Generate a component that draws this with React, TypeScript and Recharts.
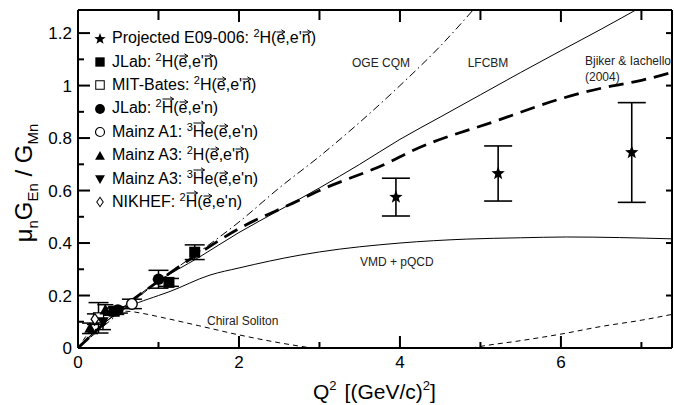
import { ComposedChart, Line, Scatter, XAxis, YAxis, ErrorBar } from 'recharts'

const FONT = '"Liberation Sans", Arial, Helvetica, sans-serif'
const PLOT_LEFT = 78
const PLOT_RIGHT = 672
const PLOT_TOP = 10
const PLOT_BOTTOM = 348
const X_MAX = 7.38
const Y_MAX = 1.288

// axis ticks
const xMajor = [0, 2, 4, 6]
const xMinor = [1, 3, 5, 7]
const yMajor = [0, 0.2, 0.4, 0.6, 0.8, 1.0, 1.2]
const yMinor = [0.1, 0.3, 0.5, 0.7, 0.9, 1.1]

// theory curves
const ogeQ2 = [0, 0.5, 1, 1.5, 2, 2.5, 3, 3.5, 4, 4.5, 5]
const ogeRatio = [0, 0.13, 0.255, 0.365, 0.48, 0.61, 0.73, 0.86, 1.0, 1.15, 1.32]

const lfcbmQ2 = [0, 0.5, 1, 1.5, 2, 2.5, 3, 3.5, 4, 4.5, 5, 5.5, 6, 6.5, 7]
const lfcbmRatio = [0, 0.14, 0.255, 0.345, 0.44, 0.525, 0.61, 0.7, 0.795, 0.88, 0.965, 1.05, 1.133, 1.215, 1.3]

const bijkerQ2 = [0, 0.5, 1, 1.5, 2, 2.67, 3, 3.88, 4.12, 5.24, 6, 6.5, 7, 7.38]
const bijkerRatio = [0, 0.14, 0.255, 0.36, 0.455, 0.552, 0.6, 0.71, 0.747, 0.87, 0.95, 0.99, 1.02, 1.05]

const vmdQ2 = [0, 0.25, 0.5, 1, 1.13, 1.64, 2, 2.76, 3, 4, 4.83, 5.5, 6.07, 7.38]
const vmdRatio = [0, 0.075, 0.135, 0.2, 0.214, 0.278, 0.305, 0.354, 0.366, 0.4, 0.415, 0.42, 0.423, 0.416]

const chiralQ2 = [0, 0.1, 0.2, 0.3, 0.45, 0.6, 0.8, 1.02, 1.5, 2, 2.5, 2.9, 3.5, 4, 4.5, 5, 5.5, 6, 6.5, 7, 7.38]
const chiralRatio = [0, 0.045, 0.085, 0.11, 0.135, 0.14, 0.132, 0.118, 0.085, 0.05, 0.02, 0, -0.03, -0.04, -0.025, 0.006, 0.028, 0.053, 0.082, 0.106, 0.128]

// data points
const projQ2 = [3.95, 5.22, 6.88]
const projRatio = [0.575, 0.665, 0.745]
const projErr = [0.072, 0.105, 0.19]

const jlabDQ2 = [0.45, 1.13, 1.45]
const jlabDRatio = [0.14, 0.25, 0.365]
const jlabDErr = [0.012, 0.015, 0.028]

const batesQ2 = [0.255]
const batesRatio = [0.115]
const batesErr = [0.058]

const jlabPolQ2 = [0.495, 1.0]
const jlabPolRatio = [0.145, 0.262]
const jlabPolErr = [0.012, 0.034]

const mainzA1Q2 = [0.67]
const mainzA1Ratio = [0.168]
const mainzA1Err = [0.018]

const mainzA3dQ2 = [0.15, 0.34]
const mainzA3dRatio = [0.075, 0.145]
const mainzA3dErr = [0.02, 0.02]

const mainzA3heQ2 = [0.31]
const mainzA3heRatio = [0.1]
const mainzA3heErr = [0.03]

const nikhefQ2 = [0.21]
const nikhefRatio = [0.11]
const nikhefErr = [0.02]

const curve = (xs: number[], ys: number[]) => xs.map((x, i) => ({ x, y: ys[i] }))
const points = (xs: number[], ys: number[], es: number[]) => xs.map((x, i) => ({ x, y: ys[i], e: es[i] }))

// tick positions on the frame (same domain as the axes)
const tx = (v: number) => PLOT_LEFT + (v / X_MAX) * (PLOT_RIGHT - PLOT_LEFT)
const ty = (v: number) => PLOT_BOTTOM - (v / Y_MAX) * (PLOT_BOTTOM - PLOT_TOP)

// ---------- marker shapes ----------
const starPath = (cx: number, cy: number, R: number) => {
  const r = R * 0.42
  let d = ''
  for (let i = 0; i < 10; i++) {
    const a = -Math.PI / 2 + (i * Math.PI) / 5
    const rr = i % 2 === 0 ? R : r
    d += (i === 0 ? 'M' : 'L') + (cx + rr * Math.cos(a)).toFixed(2) + ',' + (cy + rr * Math.sin(a)).toFixed(2)
  }
  return d + 'Z'
}

const Marker = ({ kind, cx, cy }: { kind: string; cx: number; cy: number }) => {
  switch (kind) {
    case 'star':
      return <path d={starPath(cx, cy, 7)} fill="#000" />
    case 'sq':
      return <rect x={cx - 5.5} y={cy - 5.5} width={11} height={11} fill="#000" />
    case 'osq':
      return <rect x={cx - 5} y={cy - 5} width={10} height={10} fill="#fff" stroke="#000" strokeWidth={1.2} />
    case 'dot':
      return <circle cx={cx} cy={cy} r={5.8} fill="#000" />
    case 'odot':
      return <circle cx={cx} cy={cy} r={5.3} fill="#fff" stroke="#000" strokeWidth={1.4} />
    case 'tri':
      return <path d={`M${cx},${cy - 6}L${cx + 5.8},${cy + 4.5}L${cx - 5.8},${cy + 4.5}Z`} fill="#000" />
    case 'dtri':
      return <path d={`M${cx},${cy + 6}L${cx + 5.8},${cy - 4.5}L${cx - 5.8},${cy - 4.5}Z`} fill="#000" />
    case 'dia':
      return <path d={`M${cx},${cy - 5.5}L${cx + 3.8},${cy}L${cx},${cy + 5.5}L${cx - 3.8},${cy}Z`} fill="#fff" stroke="#000" strokeWidth={1.2} />
  }
  return null
}

const shape = (kind: string) => (p: any) => <Marker kind={kind} cx={p.cx} cy={p.cy} />

// ---------- tick labels ----------
const fmt = (v: number) => String(Math.round(v * 10) / 10)

const BottomLabel = (p: any) => (
  <text x={p.x} y={PLOT_BOTTOM + 20} textAnchor="middle" fontSize={17} fontFamily={FONT} fill="#000">
    {p.payload.value}
  </text>
)

const LeftLabel = (p: any) => (
  <text x={PLOT_LEFT - 6} y={p.y + 6} textAnchor="end" fontSize={17} fontFamily={FONT} fill="#000">
    {fmt(p.payload.value)}
  </text>
)

const frame = { stroke: '#000', strokeWidth: 2 }

// inward tick marks on all four sides, drawn as thin filled bars
const vTick = (x: number, y: number, len: number, key: string) => (
  <rect key={key} x={x - 1} y={len > 0 ? y : y + len} width={2} height={Math.abs(len)} fill="#000" />
)
const hTick = (x: number, y: number, len: number, key: string) => (
  <rect key={key} x={len > 0 ? x : x + len} y={y - 1} width={Math.abs(len)} height={2} fill="#000" />
)

const TickMarks = () => (
  <g>
    {xMajor.map((v) => vTick(tx(v), PLOT_BOTTOM, -12, 'bM' + v))}
    {xMajor.map((v) => vTick(tx(v), PLOT_TOP, 12, 'tM' + v))}
    {xMinor.map((v) => vTick(tx(v), PLOT_BOTTOM, -6, 'bm' + v))}
    {xMinor.map((v) => vTick(tx(v), PLOT_TOP, 10, 'tm' + v))}
    {yMajor.map((v) => hTick(PLOT_LEFT, ty(v), 12, 'lM' + v))}
    {yMajor.map((v) => hTick(PLOT_RIGHT, ty(v), -6, 'rM' + v))}
    {yMinor.map((v) => hTick(PLOT_LEFT, ty(v), 6, 'lm' + v))}
  </g>
)

// ---------- legend ----------
const Vec = ({ children, cap }: { children: any; cap?: boolean }) => (
  <span style={{ position: 'relative', display: 'inline-block', lineHeight: '16px' }}>
    {children}
    <svg
      style={{ position: 'absolute', left: 0, top: cap ? -4 : -1, width: '100%', height: 6, overflow: 'visible' }}
    >
      <line x1="0.5" y1="3" x2="100%" y2="3" stroke="#000" strokeWidth={1} />
      <svg x="100%" y="3" overflow="visible">
        <path d="M-3.5,-2.2L0,0L-3.5,2.2" fill="none" stroke="#000" strokeWidth={1} />
      </svg>
    </svg>
  </span>
)

const Sup = ({ children }: { children: any }) => (
  <span style={{ fontSize: 11, position: 'relative', top: -6 }}>{children}</span>
)

const legendRows: { kind: string; label: string; react: any }[] = [
  { kind: 'star', label: 'Projected E09-006: ', react: <><Sup>2</Sup>H(<Vec>e</Vec>,e'<Vec>n</Vec>)</> },
  { kind: 'sq', label: 'JLab: ', react: <><Sup>2</Sup>H(<Vec>e</Vec>,e'<Vec>n</Vec>)</> },
  { kind: 'osq', label: 'MIT-Bates: ', react: <><Sup>2</Sup>H(<Vec>e</Vec>,e'<Vec>n</Vec>)</> },
  { kind: 'dot', label: 'JLab: ', react: <><Sup>2</Sup><Vec cap>H</Vec>(<Vec>e</Vec>,e'n)</> },
  { kind: 'odot', label: 'Mainz A1: ', react: <><Sup>3</Sup><Vec cap>H</Vec>e(<Vec>e</Vec>,e'n)</> },
  { kind: 'tri', label: 'Mainz A3: ', react: <><Sup>2</Sup>H(<Vec>e</Vec>,e'<Vec>n</Vec>)</> },
  { kind: 'dtri', label: 'Mainz A3: ', react: <><Sup>3</Sup><Vec cap>H</Vec>e(<Vec>e</Vec>,e'n)</> },
  { kind: 'dia', label: 'NIKHEF: ', react: <><Sup>2</Sup><Vec cap>H</Vec>(<Vec>e</Vec>,e'n)</> },
]

const LegendBox = () => (
  <div style={{ position: 'absolute', left: 92, top: 27, fontFamily: FONT, fontSize: 16, color: '#000' }}>
    {legendRows.map((r, i) => (
      <div key={i} style={{ height: 23.4, display: 'flex', alignItems: 'center', lineHeight: '18px', whiteSpace: 'pre' }}>
        <svg width={16} height={16} style={{ marginRight: 4, flex: 'none' }}>
          {r.kind === 'star' ? (
            <path d={starPath(8, 8, 6)} fill="#000" />
          ) : (
            <g transform="translate(8,8) scale(0.85) translate(-8,-8)">
              <Marker kind={r.kind} cx={8} cy={8} />
            </g>
          )}
        </svg>
        <span>
          {r.label}
          {r.react}
        </span>
      </div>
    ))}
  </div>
)

export default function App() {
  return (
    <div style={{ position: 'absolute', left: 0, top: 0, width: 674, height: 405, background: '#fff' }}>
      <ComposedChart width={674} height={405} margin={{ top: 9, right: 1, bottom: 56, left: 77 }}>
        <XAxis xAxisId="b" type="number" dataKey="x" domain={[0, X_MAX]} ticks={xMajor} interval={0} height={1}
          tickSize={0} tickLine={false} tick={BottomLabel} axisLine={frame} allowDataOverflow />
        <XAxis xAxisId="t" orientation="top" type="number" dataKey="x" domain={[0, X_MAX]} ticks={xMajor} interval={0} height={1}
          tickSize={0} tickLine={false} tick={false} axisLine={frame} allowDataOverflow />
        <YAxis yAxisId="l" type="number" domain={[0, Y_MAX]} ticks={yMajor} interval={0} width={1}
          tickSize={0} tickLine={false} tick={LeftLabel} axisLine={frame} allowDataOverflow />
        <YAxis yAxisId="r" orientation="right" type="number" domain={[0, Y_MAX]} ticks={yMajor} interval={0} width={1}
          tickSize={0} tickLine={false} tick={false} axisLine={frame} allowDataOverflow />

        <Line xAxisId="b" yAxisId="l" data={curve(ogeQ2, ogeRatio)} dataKey="y" type="monotone" stroke="#000" strokeWidth={1} strokeDasharray="8 3.5 1.5 3.5" dot={false} isAnimationActive={false} />
        <Line xAxisId="b" yAxisId="l" data={curve(lfcbmQ2, lfcbmRatio)} dataKey="y" type="monotone" stroke="#000" strokeWidth={1} dot={false} isAnimationActive={false} />
        <Line xAxisId="b" yAxisId="l" data={curve(bijkerQ2, bijkerRatio)} dataKey="y" type="monotone" stroke="#000" strokeWidth={2.8} strokeDasharray="15 8" dot={false} isAnimationActive={false} />
        <Line xAxisId="b" yAxisId="l" data={curve(vmdQ2, vmdRatio)} dataKey="y" type="monotone" stroke="#000" strokeWidth={1} dot={false} isAnimationActive={false} />
        <Line xAxisId="b" yAxisId="l" data={curve(chiralQ2, chiralRatio)} dataKey="y" type="monotone" stroke="#000" strokeWidth={1} strokeDasharray="5 4" dot={false} isAnimationActive={false} />

        <Scatter xAxisId="b" yAxisId="l" data={points(batesQ2, batesRatio, batesErr)} dataKey="y" shape={shape('osq')} isAnimationActive={false}>
          <ErrorBar dataKey="e" direction="y" width={10} stroke="#000" strokeWidth={1.5} />
        </Scatter>
        <Scatter xAxisId="b" yAxisId="l" data={points(nikhefQ2, nikhefRatio, nikhefErr)} dataKey="y" shape={shape('dia')} isAnimationActive={false}>
          <ErrorBar dataKey="e" direction="y" width={8} stroke="#000" strokeWidth={1.5} />
        </Scatter>
        <Scatter xAxisId="b" yAxisId="l" data={points(mainzA3heQ2, mainzA3heRatio, mainzA3heErr)} dataKey="y" shape={shape('dtri')} isAnimationActive={false}>
          <ErrorBar dataKey="e" direction="y" width={8} stroke="#000" strokeWidth={1.5} />
        </Scatter>
        <Scatter xAxisId="b" yAxisId="l" data={points(mainzA3dQ2, mainzA3dRatio, mainzA3dErr)} dataKey="y" shape={shape('tri')} isAnimationActive={false}>
          <ErrorBar dataKey="e" direction="y" width={8} stroke="#000" strokeWidth={1.5} />
        </Scatter>
        <Scatter xAxisId="b" yAxisId="l" data={points(mainzA1Q2, mainzA1Ratio, mainzA1Err)} dataKey="y" shape={shape('odot')} isAnimationActive={false}>
          <ErrorBar dataKey="e" direction="y" width={10} stroke="#000" strokeWidth={1.5} />
        </Scatter>
        <Scatter xAxisId="b" yAxisId="l" data={points(jlabDQ2, jlabDRatio, jlabDErr)} dataKey="y" shape={shape('sq')} isAnimationActive={false}>
          <ErrorBar dataKey="e" direction="y" width={10} stroke="#000" strokeWidth={1.5} />
        </Scatter>
        <Scatter xAxisId="b" yAxisId="l" data={points(jlabPolQ2, jlabPolRatio, jlabPolErr)} dataKey="y" shape={shape('dot')} isAnimationActive={false}>
          <ErrorBar dataKey="e" direction="y" width={10} stroke="#000" strokeWidth={1.5} />
        </Scatter>
        <Scatter xAxisId="b" yAxisId="l" data={points(projQ2, projRatio, projErr)} dataKey="y" shape={shape('star')} isAnimationActive={false}>
          <ErrorBar dataKey="e" direction="y" width={14} stroke="#000" strokeWidth={1.6} />
        </Scatter>
      </ComposedChart>

      <svg
        width={674}
        height={405}
        style={{ position: 'absolute', left: 0, top: 0, pointerEvents: 'none', fontFamily: FONT }}
      >
        <TickMarks />
        <g fontSize={12} fill="#222">
          <text x={381} y={67} textAnchor="middle">OGE CQM</text>
          <text x={488} y={67} textAnchor="middle">LFCBM</text>
          <text x={585} y={65}>Bjiker &amp; Iachello</text>
          <text x={585} y={81}>(2004)</text>
          <text x={360} y={266}>VMD + pQCD</text>
          <text x={207} y={325}>Chiral Soliton</text>
        </g>
        <text x={313} y={399} fontSize={21} fill="#000">
          Q<tspan dy={-9} fontSize={13}>2</tspan>
          <tspan dy={9} dx={8}>[(GeV/c)</tspan>
          <tspan dy={-9} fontSize={13}>2</tspan>
          <tspan dy={9}>]</tspan>
        </text>
        <text transform="translate(32,183) rotate(-90)" textAnchor="middle" fontSize={24} fill="#000">
          μ<tspan dy={6} fontSize={15}>n</tspan>
          <tspan dy={-6}>G</tspan>
          <tspan dy={6} fontSize={15}>En</tspan>
          <tspan dy={-6}> / G</tspan>
          <tspan dy={6} fontSize={15}>Mn</tspan>
        </text>
      </svg>
      <LegendBox />
    </div>
  )
}
